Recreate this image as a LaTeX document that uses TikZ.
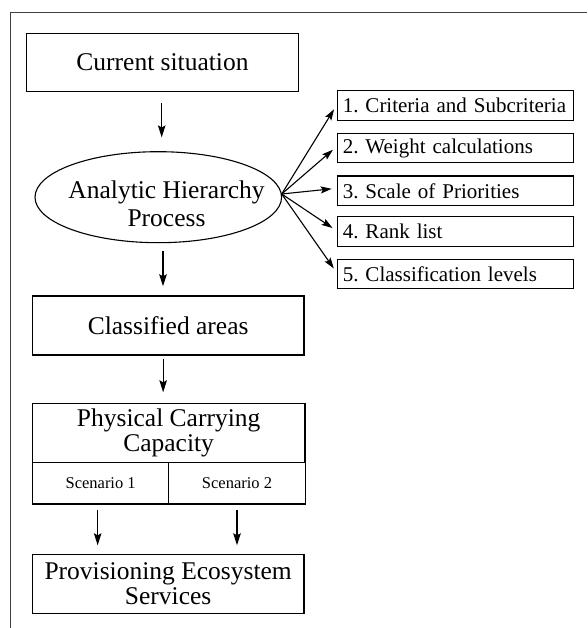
\documentclass[tikz,border=0pt]{standalone}
\usepackage{fontspec}
\setmainfont{Liberation Serif}
\usetikzlibrary{shapes.geometric,arrows.meta}
\begin{document}
\begin{tikzpicture}[x=1pt,y=-1pt,
  mainbox/.style={draw, line width=1.4pt, inner sep=0pt, align=center,
    font=\fontsize{25.5}{25}\selectfont, minimum width=271.6pt},
  sidebox/.style={draw, line width=1.1pt, inner xsep=5.5pt, inner ysep=0pt, anchor=west,
    minimum width=236pt, minimum height=29.5pt, text width=225pt, align=left,
    font=\fontsize{21}{22}\selectfont\frenchspacing},
  scbox/.style={draw, line width=1.1pt, inner sep=0pt, align=center,
    minimum width=136.5pt, minimum height=41.7pt, font=\fontsize{16.5}{18}\selectfont},
  arr/.style={-{Stealth[length=12pt,width=7.5pt,inset=2pt]}, line width=1.3pt},
  fanarr/.style={-{Stealth[length=11pt,width=7pt,inset=2pt]}, line width=1.1pt, shorten >=5pt},
  frame/.style={line width=1.1pt, draw=black!75}]
\useasboundingbox (0,0) rectangle (587,628);
\fill[white] (0,0) rectangle (587,628);
% outer frame
\coordinate (ftl) at (10.3,12.7);
\coordinate (ftr) at (587,12.7);
\coordinate (fbl) at (10.3,628);
\draw[frame] (ftr) -- (ftl) -- (fbl);

% main column
\node[mainbox, minimum height=58.4pt] (cur) at (162.5,62.5) {Current situation};
\node[draw, line width=1.1pt, ellipse, minimum width=246.6pt, minimum height=91pt, inner sep=0pt] (ahp) at (158.3,197.2) {};
\node[align=center, inner sep=0pt, font=\fontsize{25.5}{27.5}\selectfont] (ahpt) at (166.5,204) {Analytic Hierarchy\\Process};
\node[mainbox, minimum height=59pt] (cls) at (168.15,325.5) {Classified areas};
\node[mainbox, minimum width=272.7pt, minimum height=59pt] (pcc) at (168.65,432.8) {Physical Carrying\\Capacity};
\node[scbox] (sc1) at (100.65,483.15) {Scenario 1};
\node[scbox] (sc2) at (237,483.15) {Scenario 2};
\node[mainbox, minimum height=59pt] (pes) at (168.15,583.8) {Provisioning Ecosystem\\Services};

% side boxes
\node[sidebox] (b1) at (336.7,105.5) {1. Criteria and Subcriteria};
\node[sidebox] (b2) at (336.7,148) {2. Weight calculations};
\node[sidebox] (b3) at (336.7,190.8) {3. Scale of Priorities};
\node[sidebox] (b4) at (336.7,231.3) {4. Rank list};
\node[sidebox] (b5) at (336.7,273.8) {5. Classification levels};

% vertical arrows
\draw[arr, shorten <=10.3pt, shorten >=13.7pt] ([xshift=-0.8pt]cur.south) -- ([xshift=-0.8pt]cur.south |- ahp.north);
\draw[arr, shorten <=8pt, shorten >=9pt] ([xshift=4.7pt]ahp.south) -- ([xshift=4.7pt]ahp.south |- cls.north);
\draw[arr, shorten <=3pt, shorten >=10.3pt] ([xshift=-5pt]cls.south) -- ([xshift=-5pt]cls.south |- pcc.north);
\draw[arr, shorten <=5pt, shorten >=8.3pt] ([xshift=-3pt]sc1.south) -- ([xshift=-3pt]sc1.south |- pes.north);
\draw[arr, shorten <=5pt, shorten >=8.3pt] (sc2.south) -- (sc2.south |- pes.north);

% fan arrows
\coordinate (fan) at (281.7,194);
\draw[fanarr] (fan) -- ([yshift=0.5pt]b1.west);
\draw[fanarr] (fan) -- ([yshift=1.5pt]b2.west);
\draw[fanarr] (fan) -- ([yshift=2.5pt]b3.west);
\draw[fanarr] (fan) -- ([yshift=0.5pt]b4.west);
\draw[fanarr] (fan) -- ([yshift=1.2pt]b5.west);
\end{tikzpicture}
\end{document}
